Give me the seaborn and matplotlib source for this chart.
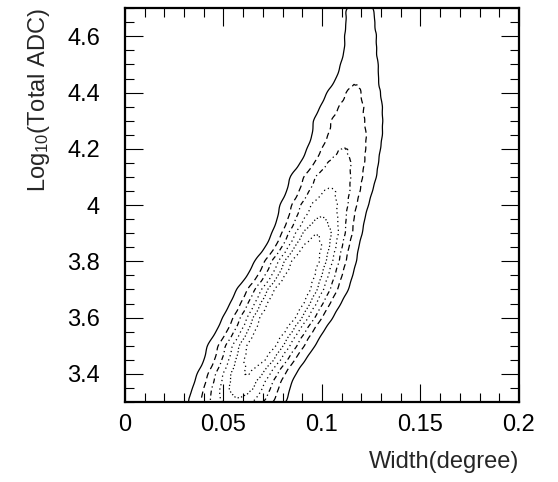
import numpy as np
import pandas as pd
import matplotlib
matplotlib.use("Agg")
import matplotlib.pyplot as plt
from matplotlib.ticker import MultipleLocator, FixedLocator, FixedFormatter
import seaborn as sns

# ---- data (2-D histogram, one row per log10 ADC bin) ----
y_rows = [3.30, 3.35, 3.40, 3.45, 3.50, 3.55, 3.60, 3.65, 3.70, 3.75,
          3.80, 3.85, 3.90, 3.95, 4.00, 4.05, 4.10, 4.15, 4.20, 4.25,
          4.30, 4.35, 4.40, 4.45, 4.50, 4.55, 4.60, 4.65, 4.70]
# x-extent of the outermost (solid) contour in each row, degrees
left_edge = [0.032, 0.035, 0.037, 0.041, 0.042, 0.047, 0.050, 0.054, 0.057, 0.063,
             0.066, 0.072, 0.075, 0.078, 0.079, 0.083, 0.084, 0.090, 0.093, 0.096,
             0.096, 0.100, 0.103, 0.108, 0.110, 0.112, 0.112, 0.113, 0.112]
right_edge = [0.082, 0.083, 0.086, 0.091, 0.096, 0.100, 0.105, 0.109, 0.113, 0.115,
              0.117, 0.118, 0.120, 0.121, 0.123, 0.125, 0.127, 0.128, 0.129, 0.130,
              0.130, 0.130, 0.129, 0.128, 0.128, 0.127, 0.127, 0.126, 0.126]
# peak count in each row
row_peak = [5.0, 5.5, 6.0, 6.5, 7.0, 7.0, 7.5, 7.5, 7.5, 7.0,
            7.0, 6.5, 6.0, 5.0, 4.5, 4.0, 3.6, 3.2, 2.9, 2.6,
            2.4, 2.2, 2.05, 1.9, 1.7, 1.6, 1.5, 1.4, 1.4]
# contour levels (counts), outermost first
contour_counts = [1, 2, 3, 4, 5, 6]

x_ticks = [0, 0.05, 0.1, 0.15, 0.2]
x_tick_labels = ["0", "0.05", "0.1", "0.15", "0.2"]
y_ticks = [3.4, 3.6, 3.8, 4.0, 4.2, 4.4, 4.6]
y_tick_labels = ["3.4", "3.6", "3.8", "4", "4.2", "4.4", "4.6"]

# ---- build the histogram table from the row descriptions ----
x_bins = np.arange(0.0, 0.2, 0.002) + 0.001
records = []
for y, l, r, pk in zip(y_rows, left_edge, right_edge, row_peak):
    c = 0.5 * (l + r)
    s = 0.5 * (r - l) / np.sqrt(2 * np.log(pk / contour_counts[0]))
    w = pk * np.exp(-0.5 * ((x_bins - c) / s) ** 2)
    for xv, wv in zip(x_bins, w):
        if wv > 0.02:
            records.append((xv, y, wv))
df = pd.DataFrame(records, columns=["width", "logadc", "count"])

wv = df["count"].to_numpy()
isoprops = [float(wv[wv < L].sum() / wv.sum()) for L in contour_counts]

line_styles = ["solid", (0, (5, 3)), (0, (4, 2.5, 1, 2.5)),
               (0, (1, 2.5)), (0, (1, 1.8)), (0, (1, 2.5))]

# ---- figure ----
sns.set_theme(style="ticks")
plt.rcParams["font.family"] = ["Liberation Sans", "DejaVu Sans"]
plt.rcParams["mathtext.default"] = "regular"

fig = plt.figure(figsize=(5.58, 4.82), dpi=100)
ax = fig.add_axes([0.224, 0.166, 0.706, 0.817])

sns.kdeplot(data=df, x="width", y="logadc", weights="count",
            levels=isoprops, bw_adjust=0.22, gridsize=250,
            color="black", linewidths=0.9, linestyles=line_styles, ax=ax)

ax.set_xlim(0, 0.2)
ax.set_ylim(3.3, 4.7)
ax.xaxis.set_major_locator(FixedLocator(x_ticks))
ax.xaxis.set_major_formatter(FixedFormatter(x_tick_labels))
ax.yaxis.set_major_locator(FixedLocator(y_ticks))
ax.yaxis.set_major_formatter(FixedFormatter(y_tick_labels))
ax.xaxis.set_minor_locator(MultipleLocator(0.01))
ax.yaxis.set_minor_locator(MultipleLocator(0.05))

ax.tick_params(which="both", direction="in", top=True, right=True,
               width=0.8, colors="black", labelsize=17)
ax.tick_params(which="major", length=13)
ax.tick_params(which="minor", length=6.5)
ax.tick_params(axis="x", which="major", pad=9)
ax.tick_params(axis="y", which="major", pad=18)
for sp in ax.spines.values():
    sp.set_linewidth(1.6)
    sp.set_color("black")

ax.set_xlabel("Width(degree)", fontsize=17, loc="right")
ax.set_ylabel("Log$_{10}$(Total ADC)", fontsize=17, loc="top")
ax.xaxis.set_label_coords(1.0, -0.125)
ax.yaxis.set_label_coords(-0.185, 1.0)

fig.savefig("out.png", dpi=100)
